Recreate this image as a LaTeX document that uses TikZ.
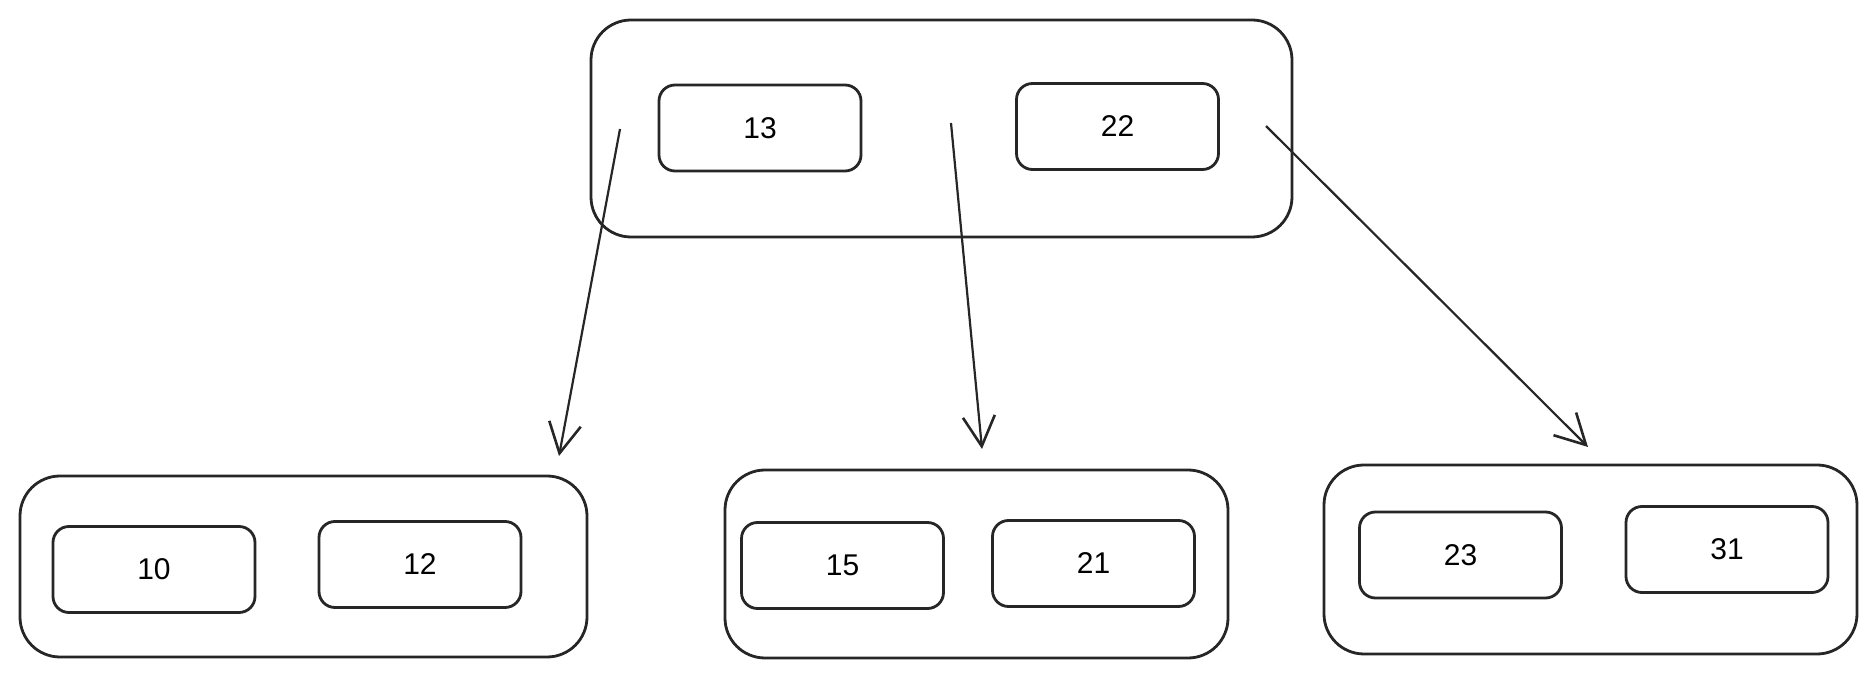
\documentclass[tikz,border=0pt]{standalone}
\usepackage{fontspec}
\setmainfont{Liberation Sans}
\usetikzlibrary{arrows.meta}
\begin{document}
\begin{tikzpicture}[x=0.5pt,y=-0.5pt,
  line color/.style={draw=black!85},
  bigbox/.style={line color,line width=1.4pt,rounded corners=20pt,rectangle,inner sep=0pt},
  keybox/.style={line color,line width=1.4pt,rounded corners=8pt,rectangle,inner sep=0pt,
    minimum width=101pt,minimum height=43pt,font=\fontsize{15}{18}\selectfont},
  ptr/.style={line color,line width=1.1pt,-{Straight Barb[length=15pt,width=16pt,line width=1.3pt]}}]
\useasboundingbox (0,0) rectangle (1876,678);
% top node
\node[bigbox,minimum width=350.5pt,minimum height=108.5pt] (top) at (941.5,128.5) {};
\node[keybox] (k13) at (760,128) {13};
\node[keybox] (k22) at (1117.5,126.5) {22};
% bottom left
\node[bigbox,minimum width=283.5pt,minimum height=90.5pt] (bl) at (303.5,566.5) {};
\node[keybox] (k10) at (154,569.5) {10};
\node[keybox] (k12) at (420,564.5) {12};
% bottom middle
\node[bigbox,minimum width=251.5pt,minimum height=94pt] (bm) at (976.5,564) {};
\node[keybox] (k15) at (842.5,565.5) {15};
\node[keybox] (k21) at (1093.5,563.5) {21};
% bottom right
\node[bigbox,minimum width=266.5pt,minimum height=94.5pt] (br) at (1590.5,559.5) {};
\node[keybox] (k23) at (1460.5,555) {23};
\node[keybox] (k31) at (1727,549.5) {31};
% pointers
\coordinate (p1s) at (620,129);
\coordinate (p1e) at (559,456);
\coordinate (p2s) at (951,123);
\coordinate (p2e) at (982,449);
\coordinate (p3s) at (1266,126);
\coordinate (p3e) at (1588,447);
\draw[ptr] (p1s) -- (p1e);
\draw[ptr] (p2s) -- (p2e);
\draw[ptr] (p3s) -- (p3e);
\end{tikzpicture}
\end{document}
